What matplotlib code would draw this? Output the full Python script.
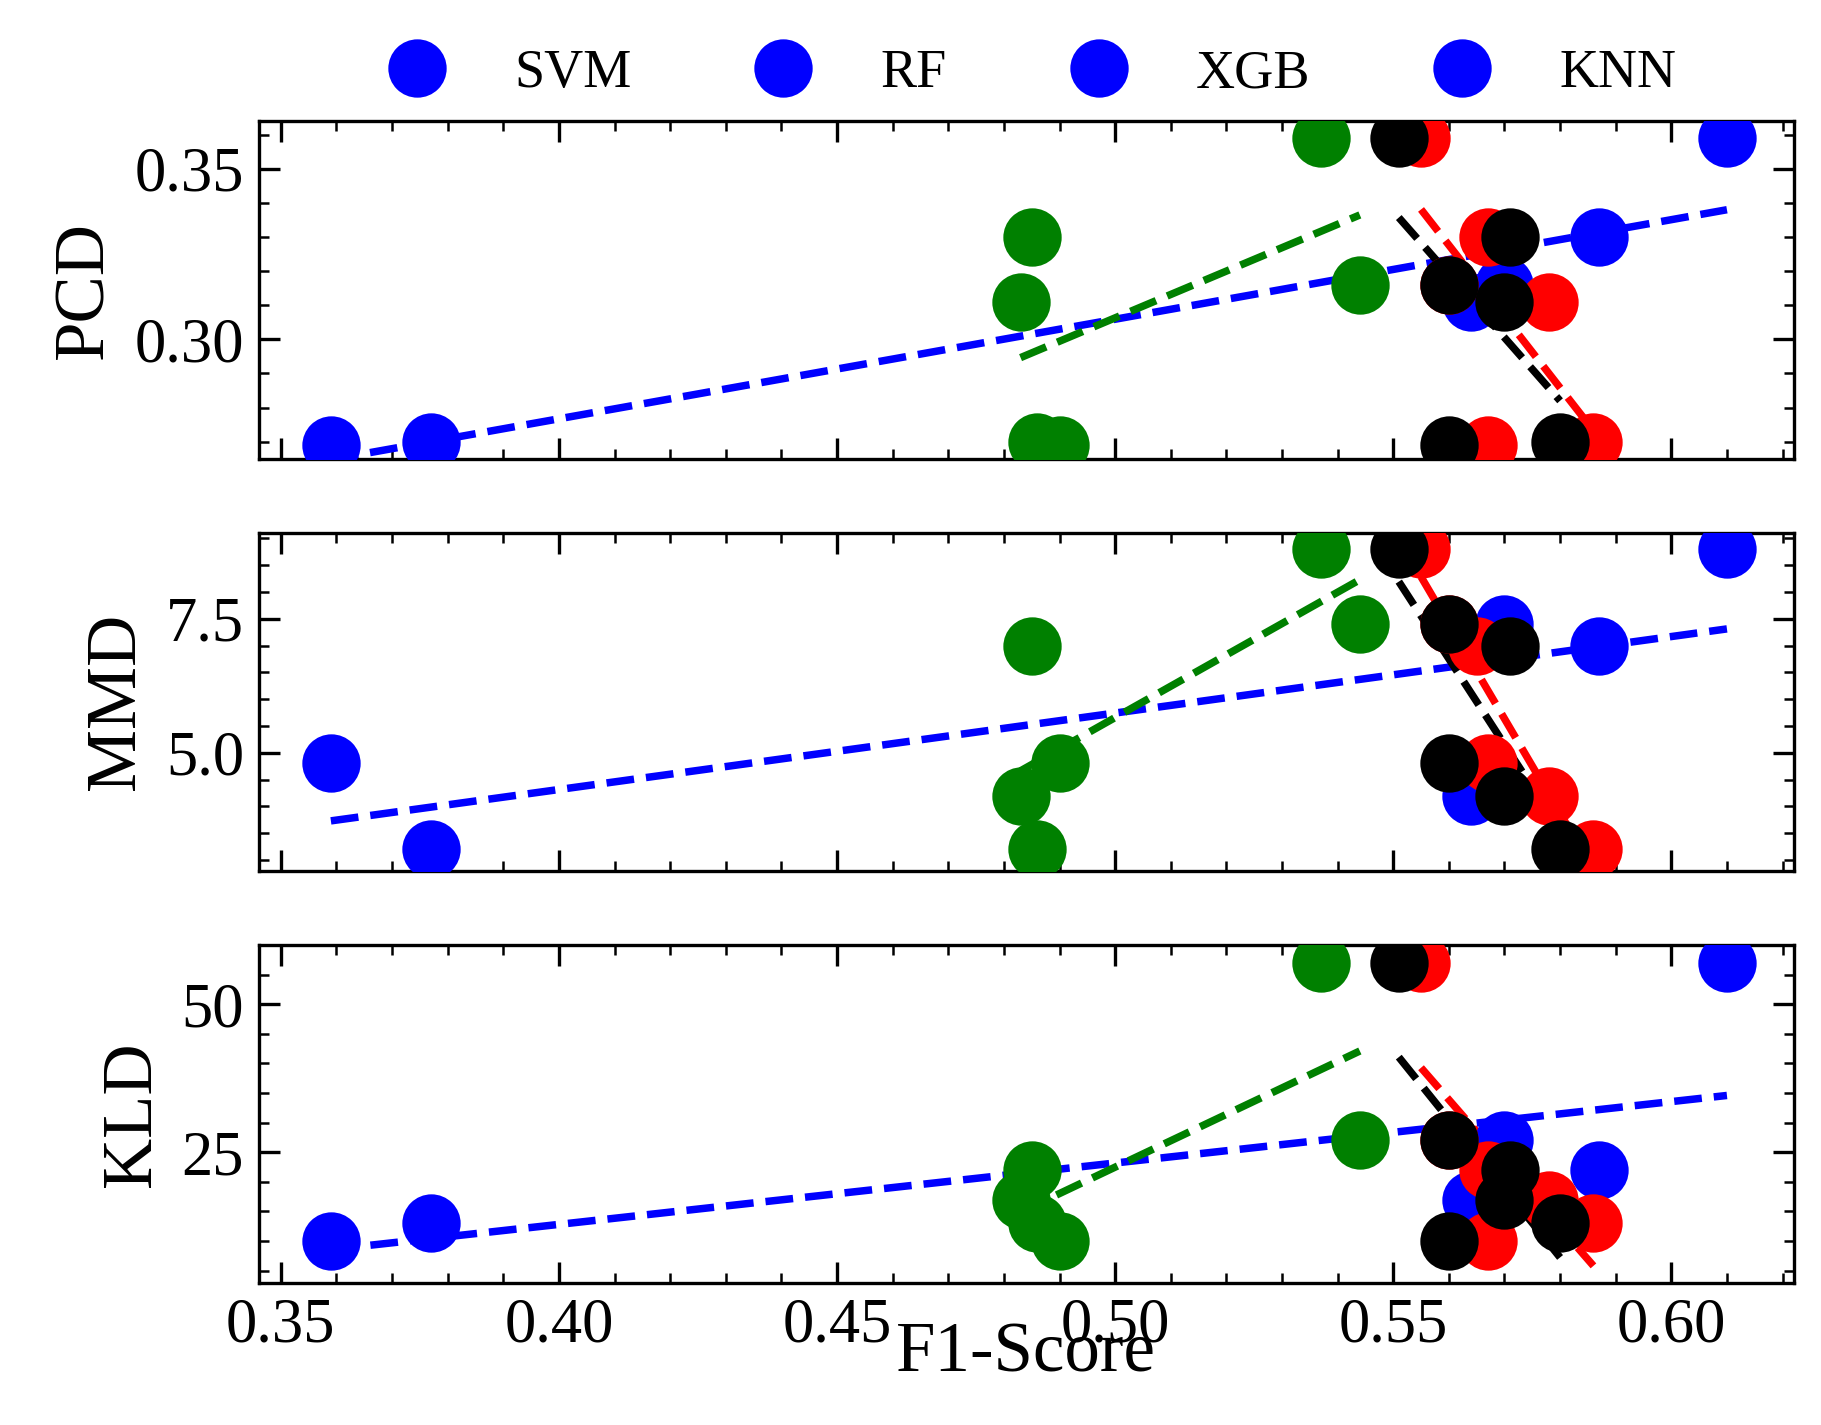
import matplotlib.pyplot as plt
import numpy as np

plt.rcParams['font.family'] = ['Liberation Serif', 'DejaVu Serif']
plt.rcParams['font.size'] = 15

models = ['SVM', 'RF', 'XGB', 'KNN']
colors = ['blue', 'green', 'red', 'black']

# F1 score of each model, per generator (6 generators)
f1 = {
    'SVM': [0.610, 0.587, 0.570, 0.564, 0.377, 0.359],
    'RF':  [0.537, 0.485, 0.544, 0.483, 0.486, 0.490],
    'XGB': [0.555, 0.567, 0.560, 0.578, 0.586, 0.567],
    'KNN': [0.551, 0.571, 0.560, 0.570, 0.580, 0.560],
}
f1_mmd = {
    'SVM': [0.610, 0.587, 0.570, 0.564, 0.377, 0.359],
    'RF':  [0.537, 0.485, 0.544, 0.483, 0.486, 0.490],
    'XGB': [0.555, 0.565, 0.560, 0.578, 0.586, 0.567],
    'KNN': [0.551, 0.571, 0.560, 0.570, 0.580, 0.560],
}
# metric values per generator, same order
pcd = [0.359, 0.330, 0.316, 0.311, 0.270, 0.269]
mmd = [8.8, 7.0, 7.4, 4.2, 3.2, 4.8]
kld = [57, 22, 27, 17, 13, 10]

fig, axes = plt.subplots(3, 1, figsize=(6.07, 4.75), dpi=300, sharex=True)
fig.subplots_adjust(left=0.142, right=0.985, top=0.915, bottom=0.1, hspace=0.22)

panels = [('PCD', pcd, (0.265, 0.364)), ('MMD', mmd, (2.8, 9.1)), ('KLD', kld, (3, 60))]
for ax, (name, yv, lim) in zip(axes, panels):
    for m, c in zip(models, colors):
        x = np.array(f1_mmd[m] if name == 'MMD' else f1[m])
        y = np.array(yv)
        ax.plot(x, y, 'o', color=c, markersize=13, label=m, zorder=3)
        k, b = np.polyfit(x, y, 1)
        xs = np.array([x.min(), x.max()])
        ax.plot(xs, k * xs + b, '--', color=c, lw=1.8, zorder=2)
    ax.set_ylim(*lim)
    ax.set_ylabel(name, fontsize=17)
    ax.minorticks_on()
    ax.tick_params(which='both', direction='in', top=True, right=True)
    ax.tick_params(which='major', length=5)
    ax.tick_params(which='minor', length=2.5)

axes[0].set_yticks([0.30, 0.35])
axes[1].set_yticks([5.0, 7.5])
axes[2].set_yticks([25, 50])
axes[2].set_xlim(0.346, 0.622)
axes[2].set_xticks([0.35, 0.40, 0.45, 0.50, 0.55, 0.60])
axes[2].set_xlabel('F1-Score', fontsize=17, labelpad=-8)

h = [plt.Line2D([], [], marker='o', ls='', color='blue', markersize=13) for _ in models]
fig.legend(h, models, loc='upper center', ncol=4, frameon=False,
           bbox_to_anchor=(0.56, 1.0), fontsize=13, columnspacing=1.8)

plt.savefig('out.png', dpi=300)
